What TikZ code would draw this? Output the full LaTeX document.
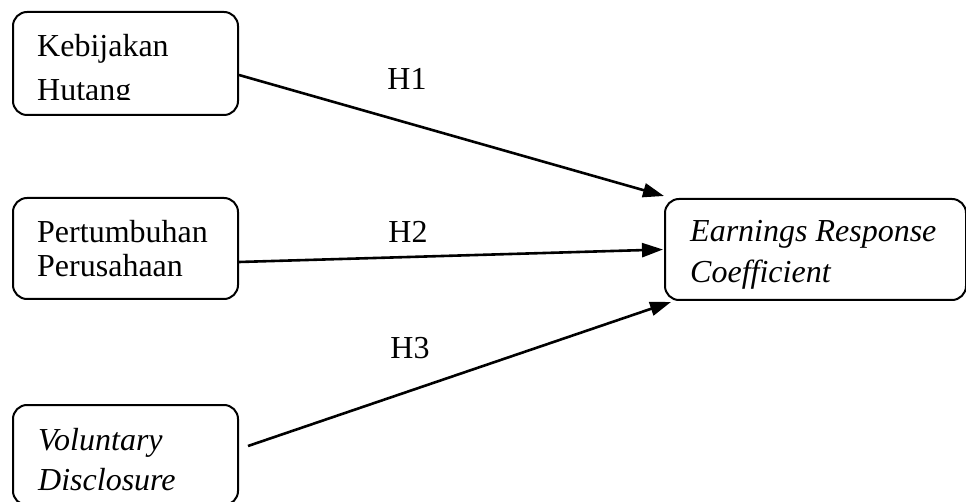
\documentclass[tikz,border=0pt]{standalone}
\usepackage{fontspec}
\setmainfont{Liberation Serif}
\usetikzlibrary{arrows.meta}
\begin{document}
\begin{tikzpicture}[x=1pt,y=-1pt,
  box/.style={draw,line width=2pt,rounded corners=14pt,inner sep=0pt},
  txt/.style={anchor=base west,inner sep=0pt,font=\fontsize{32pt}{38pt}\selectfont},
  itxt/.style={txt,font=\fontsize{32pt}{38pt}\selectfont\itshape},
  lbl/.style={inner sep=0pt,font=\fontsize{32pt}{38pt}\selectfont},
  conn/.style={line width=2.6pt,-{Triangle[length=21pt,width=14pt]}}]
\clip (0,0) rectangle (966,502);
\useasboundingbox (0,0) rectangle (966,502);
% boxes
\node[box,minimum width=225pt,minimum height=103pt] (b1) at (125.5,63.5) {};
\node[box,minimum width=225pt,minimum height=101pt] (b2) at (125.5,248.5) {};
\node[box,minimum width=225pt,minimum height=100pt] (b3) at (125.5,455) {};
\node[box,minimum width=301pt,minimum height=101pt] (b4) at (815.5,249.5) {};
% texts
\node[txt] (t1a) at (37,57) {Kebijakan};
\begin{scope}
\clip (13,60) rectangle (238,99.5);
\node[txt] (t1b) at (37,101) {Hutang};
\end{scope}
\node[txt] (t2a) at (37,243) {Pertumbuhan};
\node[txt] (t2b) at (37,277) {Perusahaan};
\node[itxt] (t3a) at (38,450) {Voluntary};
\node[itxt] (t3b) at (38,490) {Disclosure};
\node[itxt] (t4a) at (690,242) {Earnings Response};
\node[itxt] (t4b) at (690,283) {Coefficient};
% labels
\node[lbl] (h1) at (407,79) {H1};
\node[lbl] (h2) at (408,232) {H2};
\node[lbl] (h3) at (410,348) {H3};
% connectors
\draw[conn] ([yshift=-11.5pt]b1.east) -- ([yshift=2pt]b4.north west);
\draw[conn] ([yshift=-13.5pt]b2.east) -- ([xshift=-1pt]b4.west);
\draw[conn] ([xshift=9pt,yshift=9pt]b3.east) -- ([xshift=7pt,yshift=-1pt]b4.south west);
\end{tikzpicture}
\end{document}
